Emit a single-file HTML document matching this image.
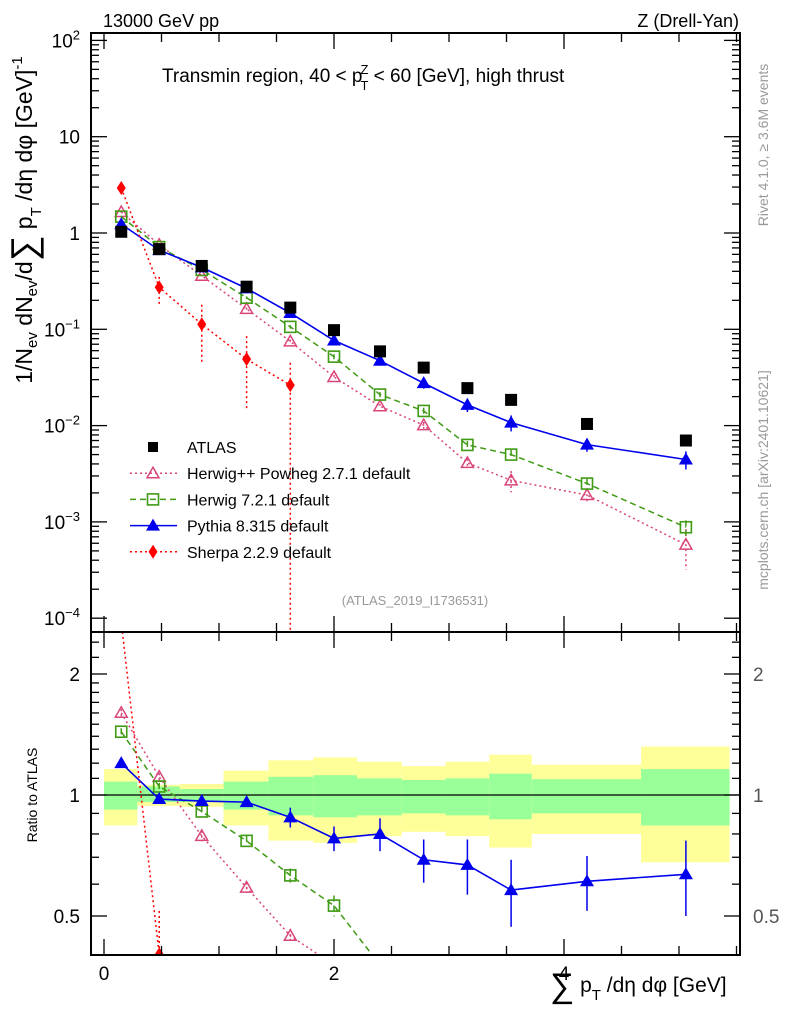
<!DOCTYPE html>
<html><head><meta charset="utf-8"><style>
body{margin:0;background:#fff;width:786px;height:1024px;overflow:hidden}
svg{display:block;font-family:"Liberation Sans",sans-serif}
</style></head><body>
<svg id="c" width="786" height="1024" viewBox="0 0 786 1024" xmlns="http://www.w3.org/2000/svg">
<text x="103" y="27" font-size="18">13000 GeV pp</text>
<text x="739" y="27" font-size="18" text-anchor="end">Z (Drell-Yan)</text>
<text x="162" y="82" font-size="19">Transmin region, 40 &lt; p<tspan font-size="13" dx="-2" dy="8">T</tspan><tspan font-size="13" dx="-8" dy="-16">Z</tspan><tspan dy="8"> &lt; 60 [GeV], high thrust</tspan></text>
<text transform="translate(768,145) rotate(-90)" font-size="14" fill="#999" text-anchor="middle">Rivet 4.1.0, ≥ 3.6M events</text>
<text transform="translate(768,480) rotate(-90)" font-size="14" fill="#999" text-anchor="middle">mcplots.cern.ch [arXiv:2401.10621]</text>
<text x="415" y="605" font-size="13" fill="#999" text-anchor="middle">(ATLAS_2019_I1736531)</text>
<text transform="translate(32,220) rotate(-90)" font-size="23" text-anchor="middle">1/N<tspan font-size="15" dy="5">ev</tspan><tspan dy="-5"> dN</tspan><tspan font-size="15" dy="5">ev</tspan><tspan dy="-5">/d</tspan><tspan font-size="36" dy="4">∑</tspan><tspan dy="-4"> p</tspan><tspan font-size="15" dy="9">T</tspan><tspan dy="-9"> /dη dφ  [GeV]</tspan><tspan font-size="15" dy="-10">-1</tspan></text>
<text transform="translate(37,795) rotate(-90)" font-size="14" text-anchor="middle">Ratio to ATLAS</text>
<text x="550" y="992" font-size="21"><tspan font-size="34" dy="5">∑</tspan><tspan dy="-5"> p</tspan><tspan font-size="15" dy="8">T</tspan><tspan dy="-8"> /dη dφ [GeV]</tspan></text>
<g id="g"></g>
</svg>
<script>
const xs = [0.15,0.48,0.85,1.24,1.62,2.0,2.4,2.78,3.16,3.54,4.2,5.06];
const edges = [0,0.29,0.66,1.04,1.43,1.82,2.2,2.59,2.97,3.35,3.72,4.67,5.44];
const atlas = [1.03,0.68,0.455,0.277,0.168,0.098,0.059,0.040,0.0245,0.0185,0.0104,0.0070];
const yelHi = [1.16,1.06,1.065,1.15,1.22,1.24,1.21,1.18,1.21,1.26,1.19,1.32];
const yelLo = [0.84,0.94,0.935,0.84,0.77,0.76,0.79,0.81,0.79,0.74,0.80,0.68];
const grnHi = [1.08,1.05,1.035,1.08,1.11,1.12,1.10,1.09,1.10,1.13,1.095,1.16];
const grnLo = [0.92,0.96,0.96,0.92,0.89,0.88,0.89,0.90,0.89,0.87,0.90,0.84];
const pythiaRatio = [1.20,0.977,0.966,0.96,0.88,0.78,0.80,0.69,0.67,0.58,0.61,0.635];
const pythiaErr = [0.01,0.01,0.01,0.02,0.05,0.055,0.075,0.085,0.105,0.11,0.095,0.135];
const herwig7 = [1.48,0.714,0.414,0.213,0.106,0.052,0.021,0.0142,0.0063,0.0050,0.0025,0.00088];
const herwig7Err = [0.02,0.02,0.03,0.03,0.04,0.06,0.06,0.08,0.1,0.12,0.12,0.18];
const herwigpp = [1.65,0.755,0.36,0.163,0.075,0.032,0.0159,0.0101,0.0041,0.0027,0.0019,0.00058];
const herwigppErr = [0.02,0.02,0.03,0.03,0.04,0.05,0.06,0.08,0.1,0.25,0.15,0.45];
const sherpa = [2.93,0.273,0.113,0.049,0.0263];
const sherpaUp = [3.1,0.35,0.18,0.085,0.045];
const sherpaDn = [2.8,0.18,0.044,0.0144,0.00001];
const yTickExp = ['−4','−3','−2','−1','','','2'];
const yTickBase = ['10','10','10','10','1','10','10'];

const L=91,R=740,T1=33,B1=632,T2=632,B2=955;
const X=v=>104+v*115;
const clamp=(y,a,b)=>Math.max(a,Math.min(b,y));
const Y=v=>clamp(233-96.3*Math.log10(v),T1-10,B1+10);
const RY=v=>clamp(795-121*Math.log2(v),T2-10,B2+10);
const g=document.getElementById('g');
const NS='http://www.w3.org/2000/svg';
function mk(t,a,parent){const e=document.createElementNS(NS,t);for(const k in a)e.setAttribute(k,a[k]);(parent||g).appendChild(e);return e;}
const defs=mk('defs',{});
const c1=mk('clipPath',{id:'c1'},defs);mk('rect',{x:L,y:T1,width:R-L,height:B1-T1},c1);
const c2=mk('clipPath',{id:'c2'},defs);mk('rect',{x:L,y:T2,width:R-L,height:B2-T2},c2);
const topG=mk('g',{'clip-path':'url(#c1)'});


const botG=mk('g',{'clip-path':'url(#c2)'});


for(let i=0;i<xs.length;i++){
  let r=mk('rect',{x:X(edges[i]),width:X(edges[i+1])-X(edges[i]),y:RY(yelHi[i]),height:RY(yelLo[i])-RY(yelHi[i]),fill:'#ffff99'},botG);
  
  
  r=mk('rect',{x:X(edges[i]),width:X(edges[i+1])-X(edges[i]),y:RY(grnHi[i]),height:RY(grnLo[i])-RY(grnHi[i]),fill:'#99ff99'},botG);
  
  
}
let ul=mk('line',{x1:L,x2:R,y1:RY(1),y2:RY(1),stroke:'#000','stroke-width':1.2},botG);


function marker(p,type,x,y,col){
  if(type==='sq'){return mk('rect',{x:x-6,y:y-6,width:12,height:12,fill:'#000'},p);}
  if(type==='osq'){return mk('rect',{x:x-5.5,y:y-5.5,width:11,height:11,fill:'none',stroke:col,'stroke-width':1.6},p);}
  if(type==='tri'){return mk('path',{d:`M${x},${y-7}L${x+7},${y+5}L${x-7},${y+5}Z`,fill:col},p);}
  if(type==='otri'){return mk('path',{d:`M${x},${y-6}L${x+6},${y+4.5}L${x-6},${y+4.5}Z`,fill:'none',stroke:col,'stroke-width':1.5},p);}
  if(type==='dia'){return mk('path',{d:`M${x},${y-7}L${x+4.5},${y}L${x},${y+7}L${x-4.5},${y}Z`,fill:col},p);}
}
function series(name,vals,up,dn,col,dash,w,type,p,yf,n){
  const pts=vals.slice(0,n).map((v,i)=>[X(xs[i]),yf(v,i)]);
  const pl=mk('polyline',{points:pts.map(q=>q.join(',')).join(' '),fill:'none',stroke:col,'stroke-width':w,'stroke-dasharray':dash},p);
  
  
  pts.forEach((q,i)=>{
    const y1=yf(up[i],i),y2=yf(dn[i],i);
    const e=mk('line',{x1:q[0],x2:q[0],y1:y1,y2:y2,stroke:col,'stroke-width':1.5,'stroke-dasharray':dash},p);
    
    
    const m=marker(p,type,q[0],q[1],col);
    
    
  });
}
const pink='#d9457a',green='#3f9a14',blue='#0000ee',red='#ff0000';
const rel=(arr,e,s)=>arr.map((v,i)=>v*(1+s*e[i]));
series('herwigpp',herwigpp,rel(herwigpp,herwigppErr,1),rel(herwigpp,herwigppErr,-1).map(v=>Math.max(v,1e-6)),pink,'2,3',1.5,'otri',topG,v=>Y(v),12);
series('herwig7',herwig7,rel(herwig7,herwig7Err,1),rel(herwig7,herwig7Err,-1),green,'6,4',1.5,'osq',topG,v=>Y(v),12);
const pyth=pythiaRatio.map((r,i)=>r*atlas[i]);
series('pythia',pyth,pyth.map((v,i)=>v*(1+pythiaErr[i]/pythiaRatio[i])),pyth.map((v,i)=>v*(1-pythiaErr[i]/pythiaRatio[i])),blue,'none',1.6,'tri',topG,v=>Y(v),12);
series('sherpa',sherpa,sherpaUp,sherpaDn,red,'2,3',1.5,'dia',topG,v=>Y(v),5);
atlas.forEach((v,i)=>{const m=marker(topG,'sq',X(xs[i]),Y(v));});
const rr=(arr)=>arr.map((v,i)=>v/atlas[i]);
series('herwigpp-ratio',rr(herwigpp),rr(rel(herwigpp,herwigppErr,1)),rr(rel(herwigpp,herwigppErr,-1).map(v=>Math.max(v,1e-6))),pink,'2,3',1.5,'otri',botG,v=>RY(v),12);
series('herwig7-ratio',rr(herwig7),rr(rel(herwig7,herwig7Err,1)),rr(rel(herwig7,herwig7Err,-1)),green,'6,4',1.5,'osq',botG,v=>RY(v),12);
series('pythia-ratio',pythiaRatio,pythiaRatio.map((v,i)=>v+pythiaErr[i]),pythiaRatio.map((v,i)=>v-pythiaErr[i]),blue,'none',1.6,'tri',botG,v=>RY(v),12);
series('sherpa-ratio',rr(sherpa),rr(sherpaUp),rr(sherpaDn),red,'2,3',1.5,'dia',botG,v=>RY(v),5);
[[T1,B1],[T2,B2]].forEach(([a,b],k)=>{const f=mk('rect',{x:L,y:a,width:R-L,height:b-a,fill:'none',stroke:'#000','stroke-width':2});});
for(let v=0;v<=5.5;v+=0.5){const x=X(v),M=(v%2===0);
  [[T1,1],[B1,-1],[T2,1],[B2,-1]].forEach(([y,s])=>mk('line',{x1:x,x2:x,y1:y,y2:y+s*(M?16:9),stroke:'#000','stroke-width':1.3}));
  if(M){const t=mk('text',{x:x,y:980,'font-size':19,'text-anchor':'middle'});t.textContent=v;}
}
for(let e=-4;e<=2;e++){
  for(let m=1;m<10;m++){const v=m*Math.pow(10,e),y=233-96.3*Math.log10(v);if(y<T1||y>B1)continue;
    const len=m===1?16:8;mk('line',{x1:L,x2:L+len,y1:y,y2:y,stroke:'#000','stroke-width':1.3});mk('line',{x1:R,x2:R-len,y1:y,y2:y,stroke:'#000','stroke-width':1.3});}
  const exp=yTickExp[e+4];
  const t=mk('text',{x:80,y:Y(Math.pow(10,e))+7,'font-size':19,'text-anchor':'end'});
  
  
  const b=mk('tspan',{},t);b.textContent=yTickBase[e+4];
  if(exp){const s=mk('tspan',{'font-size':13,dy:-8},t);s.textContent=exp;}
}
const rt=[0.4,0.5,0.6,0.7,0.8,0.9,1,1.1,1.2,1.3,1.4,1.5,1.6,1.7,1.8,1.9,2,2.2,2.4];
rt.forEach(v=>{const y=795-121*Math.log2(v);if(y<T2||y>B2)return;const M=(v===0.5||v===1||v===2),len=M?16:8;
  mk('line',{x1:L,x2:L+len,y1:y,y2:y,stroke:'#000','stroke-width':1.3});mk('line',{x1:R,x2:R-len,y1:y,y2:y,stroke:'#000','stroke-width':1.3});
  if(M){let t=mk('text',{x:80,y:y+7,'font-size':19,'text-anchor':'end'});t.textContent=v;
  t=mk('text',{x:753,y:y+7,'font-size':19,fill:'#555'});t.textContent=v;}
});
const legNames=['ATLAS','Herwig++ Powheg 2.7.1 default','Herwig 7.2.1 default','Pythia 8.315 default','Sherpa 2.2.9 default'];
const legCols=['#000',pink,green,blue,red],legDash=['','2,3','6,4','none','2,3'],legType=['sq','otri','osq','tri','dia'];
legNames.forEach((n,i)=>{const y=447+i*26.2;const lg=mk('g',{});
  
  
  if(i>0)mk('line',{x1:130,x2:177,y1:y,y2:y,stroke:legCols[i],'stroke-width':1.5,'stroke-dasharray':legDash[i]},lg);
  if(i===0)mk('rect',{x:148,y:y-5,width:10,height:10,fill:'#000'},lg);else marker(lg,legType[i],153,y,legCols[i]);
  const t=mk('text',{x:187,y:y+6,'font-size':16},lg);t.textContent=n;});
</script>
</body></html>
